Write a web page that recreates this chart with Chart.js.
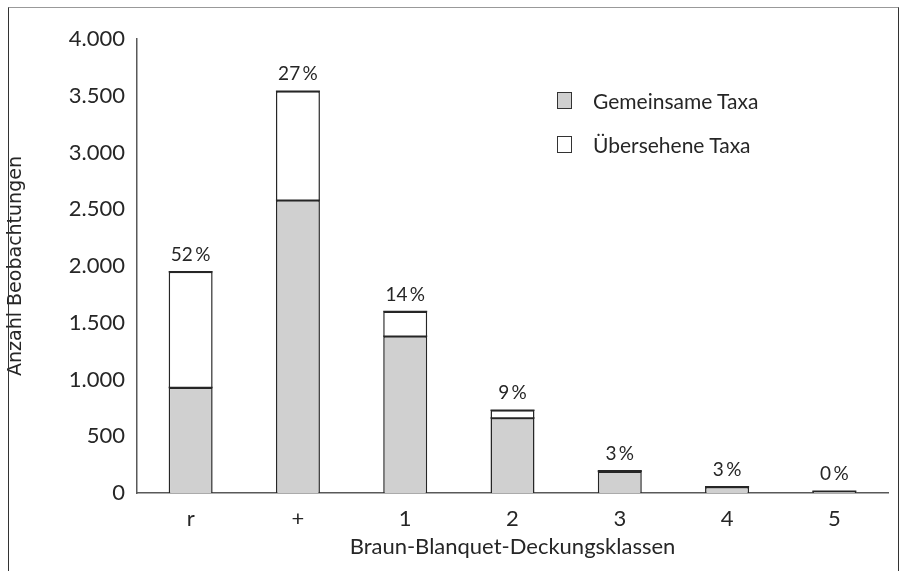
<!DOCTYPE html>
<html>
<head>
<meta charset="utf-8">
<script src="https://cdn.jsdelivr.net/npm/chart.js@4"></script>
<style>
  html, body { margin: 0; padding: 0; background: #fff; }
  #wrap { position: relative; width: 904px; height: 571px; overflow: hidden; }
  #frame { position: absolute; left: 8px; top: 7px; width: 891px; height: 600px; border: 1.5px solid #333; border-top: 1.5px solid #999; box-sizing: border-box; pointer-events: none; }
  #legend { position: absolute; left: 557px; top: 89px; font-family: Lato, sans-serif; font-size: 21px; color: #262626; }
  .leg-row { display: flex; align-items: center; height: 22px; margin-bottom: 22px; }
  .leg-box { width: 15px; height: 17px; border: 1px solid #333; box-sizing: border-box; margin-right: 21px; }
</style>
</head>
<body>
<div id="wrap">
  <canvas id="chart" width="904" height="571"></canvas>
  <div id="frame"></div>
  <div id="legend"></div>
</div>
<script>
// ---- data ----
const categories = ['r', '+', '1', '2', '3', '4', '5'];
const commonTaxa = [930, 2580, 1380, 660, 190, 53, 15];
const missedTaxa = [1020, 960, 220, 70, 6, 2, 0];
const pctLabels  = ['52\u2009%', '27\u2009%', '14\u2009%', '9\u2009%', '3\u2009%', '3\u2009%', '0\u2009%'];
const yTicks = [0, 500, 1000, 1500, 2000, 2500, 3000, 3500, 4000];

const TEXT = '#262626';
const LINE = '#262626';

// Excel draws the outline on top of each segment even when it is tiny
const topEdgePlugin = {
  id: 'topEdge',
  afterDatasetsDraw(chart) {
    const ctx = chart.ctx;
    ctx.save();
    ctx.strokeStyle = LINE;
    ctx.lineWidth = 1.5;
    chart.data.datasets.forEach((d, di) => {
      chart.getDatasetMeta(di).data.forEach((bar, i) => {
        if (!d.data[i]) return;
        ctx.beginPath();
        ctx.moveTo(bar.x - bar.width / 2, bar.y);
        ctx.lineTo(bar.x + bar.width / 2, bar.y);
        ctx.stroke();
      });
    });
    ctx.restore();
  }
};

// percent labels over each stacked bar
const pctPlugin = {
  id: 'pct',
  afterDatasetsDraw(chart) {
    const ctx = chart.ctx;
    const top = chart.getDatasetMeta(chart.data.datasets.length - 1);
    ctx.save();
    ctx.font = '19px Lato, sans-serif';
    ctx.fillStyle = TEXT;
    ctx.textAlign = 'center';
    ctx.textBaseline = 'middle';
    top.data.forEach((bar, i) => {
      ctx.fillText(pctLabels[i], bar.x, bar.y - 17);
    });
    ctx.restore();
  }
};

const chart = new Chart(document.getElementById('chart'), {
  type: 'bar',
  data: {
    labels: categories,
    datasets: [
      { label: 'Gemeinsame Taxa', data: commonTaxa, backgroundColor: '#d0d0d0', borderColor: LINE, borderWidth: 1.5 },
      { label: 'Übersehene Taxa', data: missedTaxa, backgroundColor: '#ffffff', borderColor: LINE, borderWidth: 1.5 },
    ]
  },
  options: {
    responsive: false,
    animation: false,
    devicePixelRatio: 1,
    layout: { padding: { left: 0, right: 16, top: 39, bottom: 0 } },
    datasets: { bar: { barPercentage: 0.41, categoryPercentage: 1 } },
    plugins: { legend: { display: false }, tooltip: { enabled: false } },
    scales: {
      x: {
        stacked: true,
        grid: { display: false, drawTicks: false },
        border: { color: '#595959', width: 1.5 },
        ticks: { color: TEXT, font: { family: 'Lato', size: 22 }, padding: 13 },
        title: { display: true, text: 'Braun-Blanquet-Deckungsklassen', color: TEXT,
                 font: { family: 'Lato', size: 22 }, padding: { top: 0, bottom: 11 } },
        afterFit: s => { s.height = 78; }
      },
      y: {
        stacked: true,
        min: 0, max: 4000,
        grid: { display: false, drawTicks: false },
        border: { color: '#595959', width: 1.5 },
        afterBuildTicks: s => { s.ticks = yTicks.map(v => ({ value: v })); },
        ticks: { color: TEXT, font: { family: 'Lato', size: 22 }, padding: 12,
                 callback: v => v.toLocaleString('de-DE') },
        title: { display: true, text: 'Anzahl Beobachtungen', color: TEXT,
                 font: { family: 'DejaVu Sans', size: 19 }, padding: { top: 5, bottom: 0 } },
        afterFit: s => { s.width = 137; }
      }
    }
  },
  plugins: [topEdgePlugin, pctPlugin]
});

// legend from the datasets
document.getElementById('legend').innerHTML = chart.data.datasets.map(d => `
  <div class="leg-row"><div class="leg-box" style="background:${d.backgroundColor}"></div>${d.label}</div>
`).join('');
</script>
</body>
</html>
